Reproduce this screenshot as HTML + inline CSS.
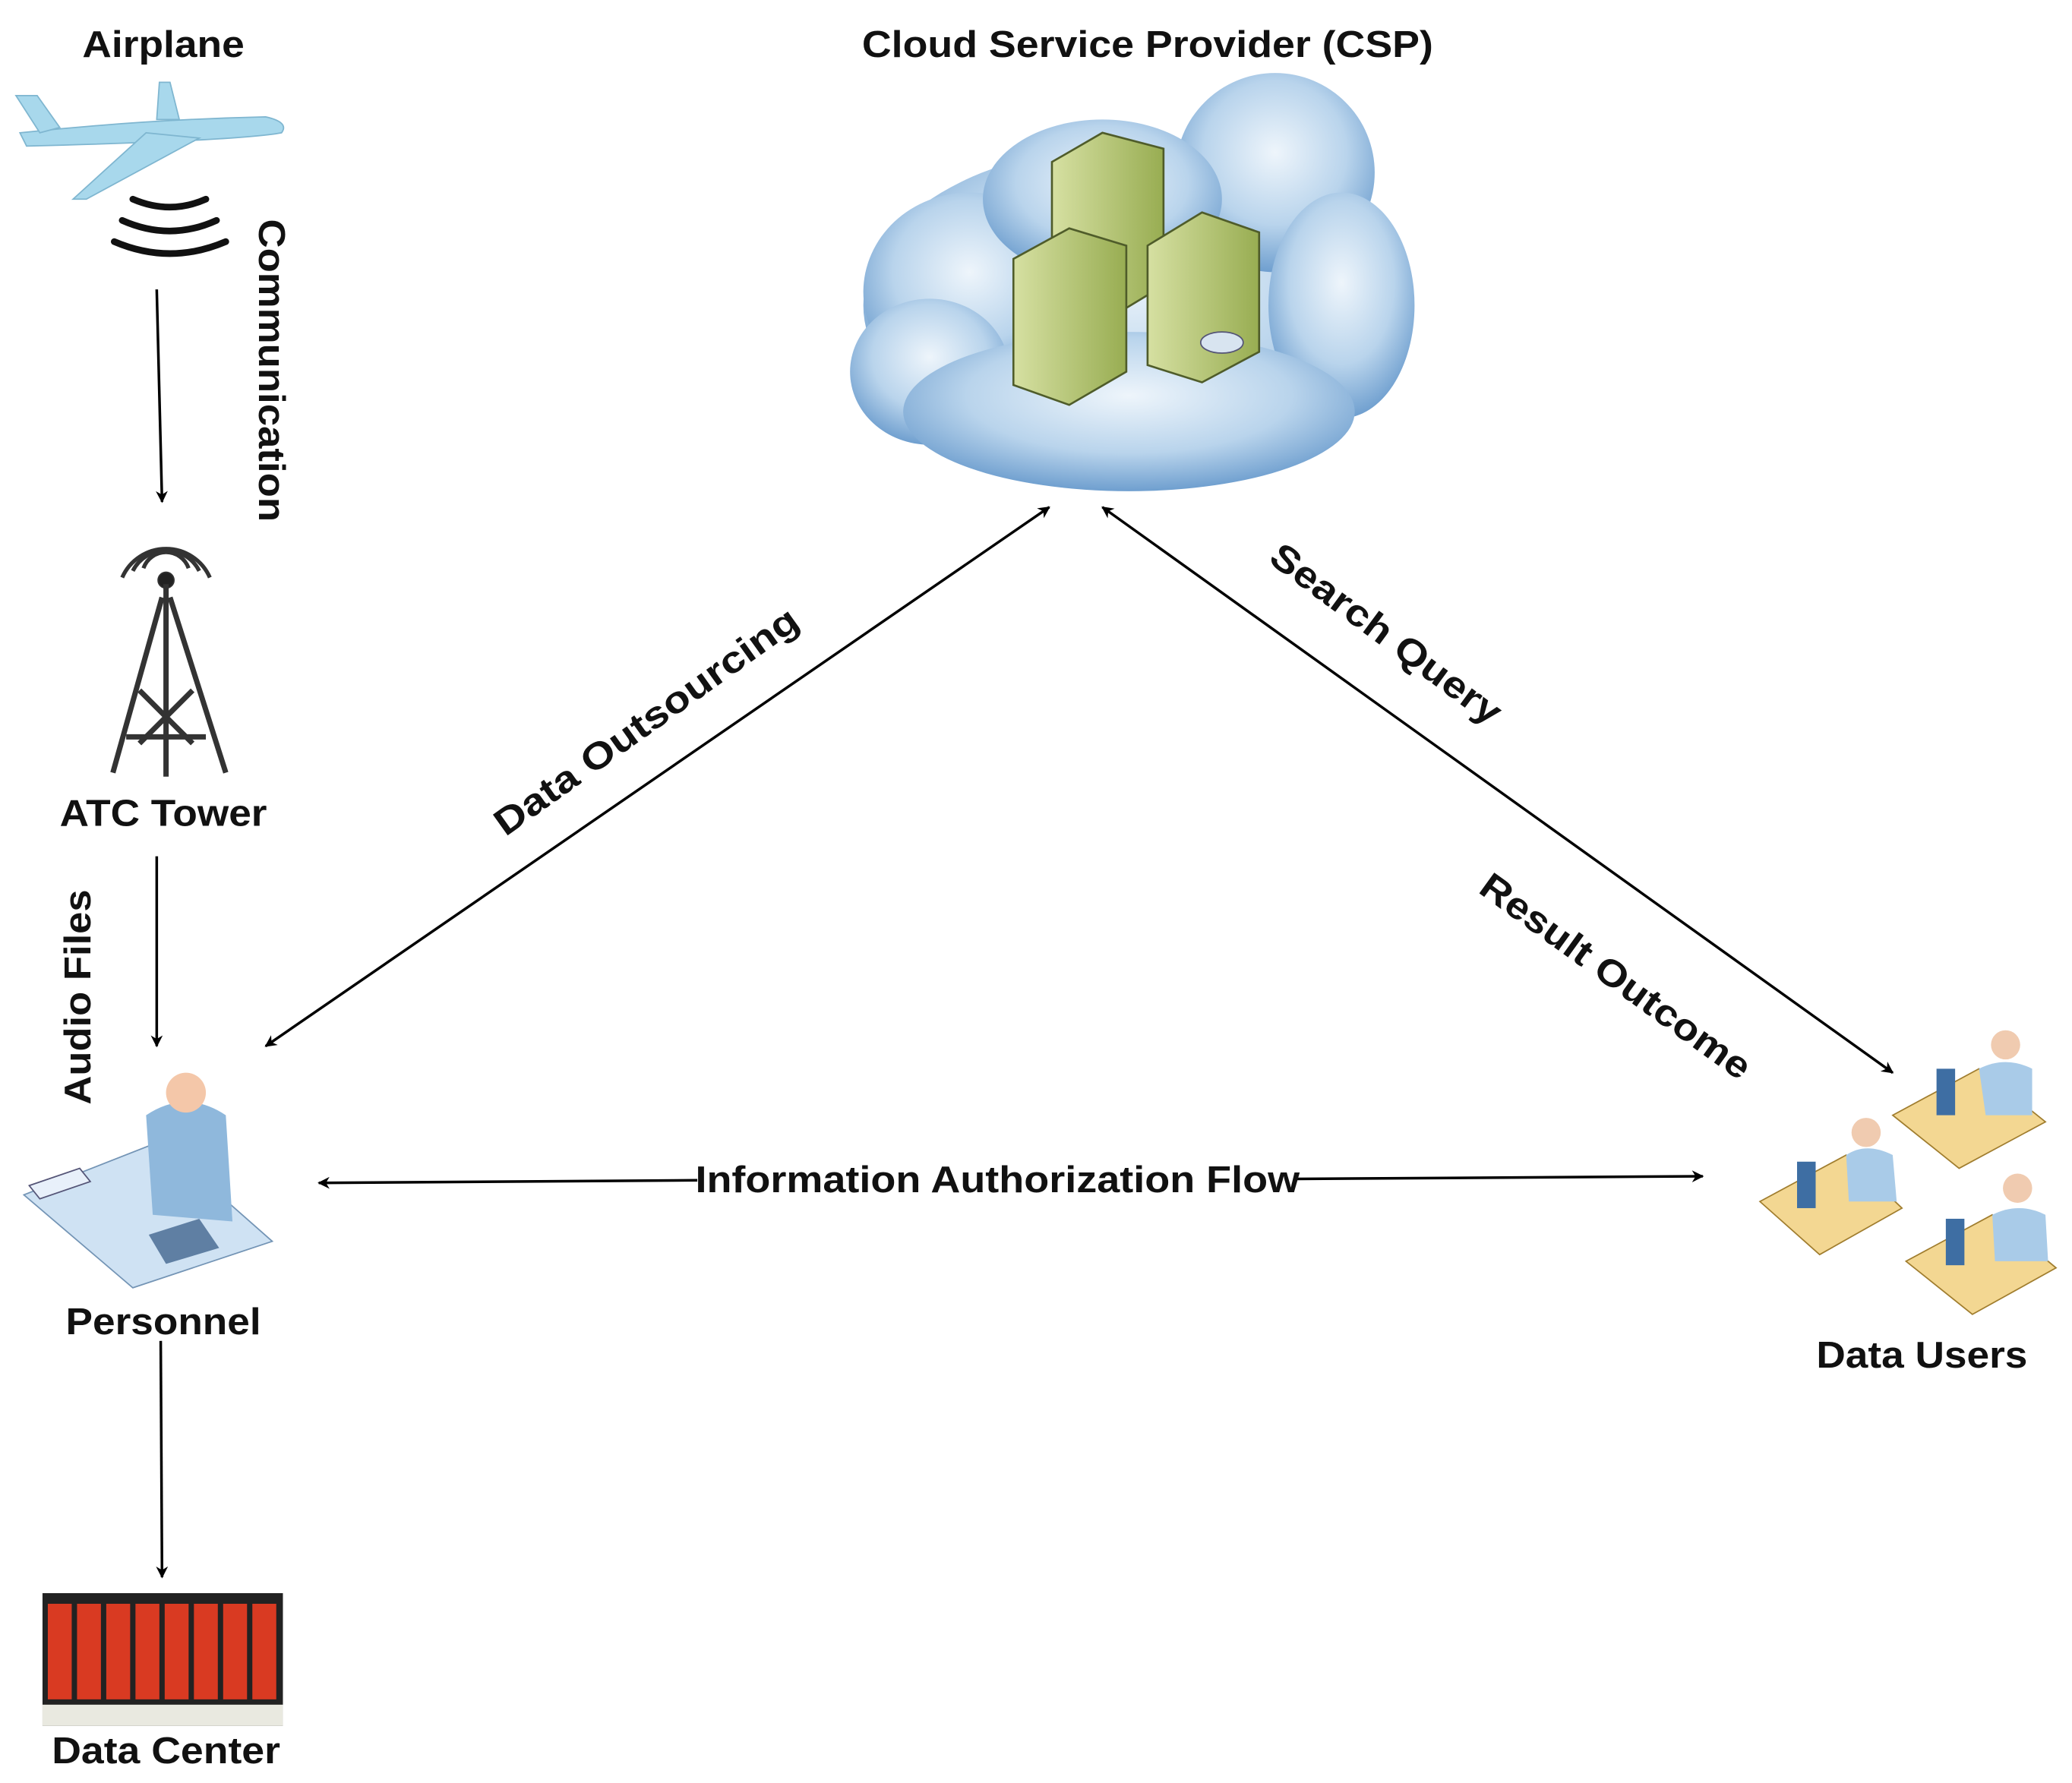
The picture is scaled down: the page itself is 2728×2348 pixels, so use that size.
<!DOCTYPE html>
<html><head><meta charset="utf-8"><style>
html,body{margin:0;padding:0;background:#fff;}
svg{display:block;}
text{font-family:"Liberation Sans",sans-serif;font-weight:bold;fill:#111;}
</style></head><body>
<svg width="2728" height="2348" viewBox="0 0 1560 1343" preserveAspectRatio="none" xmlns="http://www.w3.org/2000/svg">
<defs>
<marker id="ah" viewBox="0 0 10 10" refX="9" refY="5" markerWidth="9" markerHeight="9" orient="auto-start-reverse" markerUnits="userSpaceOnUse">
<path d="M0,0 L10,5 L0,10 L3,5 z" fill="#000"/></marker>
<radialGradient id="cg" cx="50%" cy="40%" r="60%"><stop offset="0" stop-color="#eef5fb"/><stop offset="0.6" stop-color="#b9d4ec"/><stop offset="1" stop-color="#6f9fcf"/></radialGradient>
<linearGradient id="sg" x1="0" x2="1"><stop offset="0" stop-color="#d6e0a2"/><stop offset="1" stop-color="#98ad52"/></linearGradient>
</defs>
<!-- labels -->
<text x="123" y="43" font-size="28" text-anchor="middle" textLength="122" lengthAdjust="spacingAndGlyphs">Airplane</text>
<text x="864" y="43" font-size="28" text-anchor="middle" textLength="430" lengthAdjust="spacingAndGlyphs">Cloud Service Provider (CSP)</text>
<text x="123" y="622" font-size="28" text-anchor="middle" textLength="156" lengthAdjust="spacingAndGlyphs">ATC Tower</text>
<text x="123" y="1005" font-size="28" text-anchor="middle" textLength="147" lengthAdjust="spacingAndGlyphs">Personnel</text>
<text x="125" y="1328" font-size="28" text-anchor="middle" textLength="172" lengthAdjust="spacingAndGlyphs">Data Center</text>
<text x="1447" y="1030" font-size="28" text-anchor="middle" textLength="159" lengthAdjust="spacingAndGlyphs">Data Users</text>
<text font-size="28" text-anchor="middle" transform="translate(195,279) rotate(90)" textLength="228" lengthAdjust="spacingAndGlyphs">Communication</text>
<text font-size="28" text-anchor="middle" transform="translate(68,751) rotate(-90)" textLength="162" lengthAdjust="spacingAndGlyphs">Audio Files</text>
<text font-size="28" text-anchor="middle" transform="translate(492,551) rotate(-35.5)" textLength="274" lengthAdjust="spacingAndGlyphs">Data Outsourcing</text>
<text font-size="28" text-anchor="middle" transform="translate(1038,485) rotate(36.5)" textLength="209" lengthAdjust="spacingAndGlyphs">Search Query</text>
<text font-size="28" text-anchor="middle" transform="translate(1211,743) rotate(35.8)" textLength="244" lengthAdjust="spacingAndGlyphs">Result Outcome</text>
<!-- arrows -->
<g stroke="#000" stroke-width="2" fill="none">
<line x1="118" y1="218" x2="122" y2="378" marker-end="url(#ah)"/>
<line x1="118" y1="645" x2="118" y2="788" marker-end="url(#ah)"/>
<line x1="121" y1="1010" x2="122" y2="1188" marker-end="url(#ah)"/>
<line x1="200" y1="788" x2="790" y2="382" marker-start="url(#ah)" marker-end="url(#ah)"/>
<line x1="830" y1="382" x2="1425" y2="808" marker-start="url(#ah)" marker-end="url(#ah)"/>
<line x1="240" y1="891" x2="525" y2="889" marker-start="url(#ah)"/>
<line x1="976" y1="888" x2="1282" y2="886" marker-end="url(#ah)"/>
</g>
<text x="751" y="898" font-size="28" text-anchor="middle" textLength="455" lengthAdjust="spacingAndGlyphs">Information Authorization Flow</text>
<!-- airplane -->
<g fill="#a8d8ec" stroke="#7fb6d0" stroke-width="1">
<path d="M15,100 Q110,90 200,88 Q218,92 212,100 Q180,106 20,110 z"/>
<path d="M12,72 L28,72 L45,96 L30,100 z"/>
<path d="M110,100 L150,104 L65,150 L55,150 z"/>
<path d="M118,90 L120,62 L128,62 L135,90 z"/>
</g>
<g stroke="#111" stroke-width="5" fill="none" stroke-linecap="round">
<path d="M100,150 Q128,162 155,150"/><path d="M92,166 Q128,182 163,166"/><path d="M86,182 Q128,200 170,182"/>
</g>
<!-- tower -->
<g stroke="#333" fill="none">
<path d="M100,430 A28,28 0 0 1 150,430" stroke-width="3"/>
<path d="M92,435 A36,36 0 0 1 158,435" stroke-width="3"/>
<path d="M108,428 A18,18 0 0 1 142,428" stroke-width="3"/>
<circle cx="125" cy="437" r="6" fill="#222"/>
<g stroke-width="4"><line x1="125" y1="440" x2="125" y2="585"/><line x1="122" y1="450" x2="85" y2="582"/><line x1="128" y1="450" x2="170" y2="582"/>
<line x1="105" y1="520" x2="145" y2="560"/><line x1="145" y1="520" x2="105" y2="560"/><line x1="95" y1="555" x2="155" y2="555"/></g>
</g>
<!-- cloud -->
<g fill="url(#cg)">
<ellipse cx="850" cy="230" rx="200" ry="120"/>
<ellipse cx="960" cy="130" rx="75" ry="75"/>
<ellipse cx="730" cy="220" rx="80" ry="75"/>
<ellipse cx="700" cy="280" rx="60" ry="55"/>
<ellipse cx="1010" cy="230" rx="55" ry="85"/>
<ellipse cx="850" cy="310" rx="170" ry="60"/>
<ellipse cx="830" cy="150" rx="90" ry="60"/>
</g>
<g stroke="#4f5c2a" stroke-width="1.5" fill="url(#sg)">
<path d="M792,122 L830,100 L876,112 L876,215 L838,238 L792,225 z"/>
<path d="M864,185 L905,160 L948,175 L948,265 L905,288 L864,275 z"/>
<path d="M763,195 L805,172 L848,185 L848,280 L805,305 L763,290 z"/>
</g>
<ellipse cx="920" cy="258" rx="16" ry="8" fill="#d8e4f0" stroke="#557"/>
<!-- personnel -->
<g>
<path d="M18,900 L120,860 L205,935 L100,970 z" fill="#cfe2f3" stroke="#7394b5"/>
<path d="M110,840 Q140,820 170,840 L175,920 L115,915 z" fill="#8fb8dc"/>
<circle cx="140" cy="823" r="15" fill="#f4c7a9"/>
<path d="M112,930 L150,918 L165,940 L125,952 z" fill="#5f7fa3"/>
<path d="M22,893 L60,880 L68,890 L30,903 z" fill="#e8f0fa" stroke="#557"/>
</g>
<!-- data users -->
<g>
<path d="M1425,840 L1490,805 L1540,845 L1475,880 z" fill="#f3d792" stroke="#a07d2e"/>
<path d="M1325,905 L1390,870 L1432,910 L1370,945 z" fill="#f3d792" stroke="#a07d2e"/>
<path d="M1435,950 L1500,915 L1548,955 L1485,990 z" fill="#f3d792" stroke="#a07d2e"/>
<g fill="#a9cbe8"><path d="M1490,805 Q1510,795 1530,805 L1530,840 L1495,840 z"/><path d="M1390,870 Q1405,860 1425,870 L1428,905 L1392,905 z"/><path d="M1500,915 Q1520,905 1540,915 L1542,950 L1502,950 z"/></g>
<g fill="#f0cbb0"><circle cx="1510" cy="787" r="11"/><circle cx="1405" cy="853" r="11"/><circle cx="1519" cy="895" r="11"/></g>
<g fill="#3e6ea3"><rect x="1458" y="805" width="14" height="35"/><rect x="1353" y="875" width="14" height="35"/><rect x="1465" y="918" width="14" height="35"/></g>
</g>
<!-- data center -->
<rect x="32" y="1200" width="181" height="100" fill="#222"/>
<g fill="#d93a22">
<rect x="36" y="1208" width="18" height="72"/><rect x="58" y="1208" width="18" height="72"/><rect x="80" y="1208" width="18" height="72"/><rect x="102" y="1208" width="18" height="72"/><rect x="124" y="1208" width="18" height="72"/><rect x="146" y="1208" width="18" height="72"/><rect x="168" y="1208" width="18" height="72"/><rect x="190" y="1208" width="18" height="72"/>
</g>
<rect x="32" y="1284" width="181" height="16" fill="#e9e9e0"/>
</svg>
</body></html>
